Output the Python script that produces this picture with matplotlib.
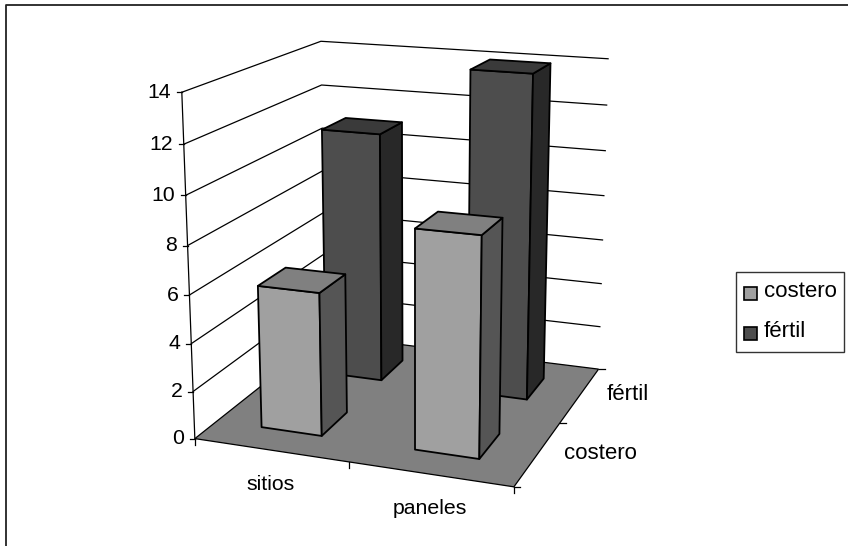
"""
Excel style 3D column chart, drawn on a plain 2D axes with a fitted camera.
"""

import numpy as np
import matplotlib
matplotlib.use("Agg")
import matplotlib.pyplot as plt
from matplotlib.patches import Polygon, Rectangle

plt.rcParams['font.family'] = ['Liberation Sans', 'DejaVu Sans']

categories = ["sitios", "paneles"]
series_names = ["costero", "fértil"]
costero = [6, 9]
fertil = [11, 14]
z_ticks = [0, 2, 4, 6, 8, 10, 12, 14]

# front, side, top
costero_clr = ["#a0a0a0", "#555555", "#808080"]
fertil_clr = ["#4d4d4d", "#282828", "#3a3a3a"]
floor_clr = "#808080"

bar_half = 0.2
font_sz = 15.3
label_sz = 16

# camera: known corners of the box -> pixel positions
cube_pts = [(0, 0, 0), (0, 0, 14), (2, 0, 0), (2, 2, 0), (2, 2, 14), (0, 2, 14), (0, 2, 0)]
pix_pts = [(194.3, 438.7), (182.3, 92.3), (514, 486.7), (598.3, 369.3),
           (608.3, 58.7), (320.3, 41.3), (326, 335)]


def fit_camera(pts, pix):
    rows = []
    for (x, y, z), (u, v) in zip(pts, pix):
        rows.append([x, y, z, 1, 0, 0, 0, 0, -u * x, -u * y, -u * z, -u])
        rows.append([0, 0, 0, 0, x, y, z, 1, -v * x, -v * y, -v * z, -v])
    _, _, vt = np.linalg.svd(np.array(rows, dtype=float))
    return vt[-1].reshape(3, 4)


cam = fit_camera(cube_pts, pix_pts)


def proj(x, y, z):
    p = cam @ np.array([x, y, z, 1.0])
    return p[0] / p[2], p[1] / p[2]


def draw_bar(ax, cat, row, val, clrs):
    x0, x1 = cat + 0.5 - bar_half, cat + 0.5 + bar_half
    y0, y1 = row + 0.5 - bar_half, row + 0.5 + bar_half
    front = [proj(x0, y0, 0), proj(x1, y0, 0), proj(x1, y0, val), proj(x0, y0, val)]
    side = [proj(x1, y0, 0), proj(x1, y1, 0), proj(x1, y1, val), proj(x1, y0, val)]
    top = [proj(x0, y0, val), proj(x1, y0, val), proj(x1, y1, val), proj(x0, y1, val)]
    for face, clr in zip([front, side, top], clrs):
        ax.add_patch(Polygon(face, closed=True, facecolor=clr, edgecolor="k", lw=1.3, joinstyle="round", zorder=3))


def main():
    fig = plt.figure(figsize=(8.48, 5.46), dpi=100)
    ax = fig.add_axes([0, 0, 1, 1])
    ax.set_xlim(0, 848)
    ax.set_ylim(546, 0)
    ax.axis("off")

    # chart area border, runs off the bottom and right of the picture
    ax.plot([6, 6, 860], [560, 5, 5], color="#222222", lw=1.3)

    # floor
    floor = [proj(0, 0, 0), proj(2, 0, 0), proj(2, 2, 0), proj(0, 2, 0)]
    ax.add_patch(Polygon(floor, closed=True, facecolor=floor_clr, edgecolor="k", lw=0.9, zorder=1))

    # wall grid lines
    for z in z_ticks[1:]:
        pts = [proj(0, 0, z), proj(0, 2, z), proj(2, 2, z)]
        ax.plot([p[0] for p in pts], [p[1] for p in pts], color="k", lw=0.9, zorder=2)

    # value axis
    a, b = proj(0, 0, 0), proj(0, 0, 14)
    ax.plot([a[0], b[0]], [a[1], b[1]], color="k", lw=0.9, zorder=2)
    for z in z_ticks:
        u, v = proj(0, 0, z)
        ax.plot([u - 5, u], [v, v], color="k", lw=0.9, zorder=2)
        ax.text(u - 10.5, v, str(z), ha="right", va="center", fontsize=font_sz)

    # floor ticks and labels
    for c in [0, 1, 2]:
        u, v = proj(c, 0, 0)
        ax.plot([u, u], [v, v + 6], color="k", lw=0.9, zorder=2)
    for r in [0, 1, 2]:
        u, v = proj(2, r, 0)
        ax.plot([u, u + 6], [v, v], color="k", lw=0.9, zorder=2)
    for i, name in enumerate(categories):
        u, v = proj(i + 0.5, 0, 0)
        ax.text(u, v + 34.5, name, ha="center", va="center", fontsize=font_sz)
    for i, name in enumerate(series_names):
        u, v = proj(2, i + 0.5, 0)
        ax.text(u + 26, v, name, ha="left", va="center", fontsize=label_sz)

    # bars, back row first
    for i in range(len(categories)):
        draw_bar(ax, i, 1, fertil[i], fertil_clr)
    for i in range(len(categories)):
        draw_bar(ax, i, 0, costero[i], costero_clr)

    # legend
    ax.add_patch(Rectangle((736, 272), 108, 80, fill=False, edgecolor="#333333", lw=1))
    for name, clrs, yc in zip(series_names, [costero_clr, fertil_clr], [293, 333.3]):
        ax.add_patch(Rectangle((743.5, yc - 6.5), 13, 13, facecolor=clrs[0], edgecolor="k", lw=1.2))
        ax.text(764, yc - 1.5, name, ha="left", va="center", fontsize=label_sz)

    fig.savefig("out.png", dpi=100)


if __name__ == '__main__':
    main()
